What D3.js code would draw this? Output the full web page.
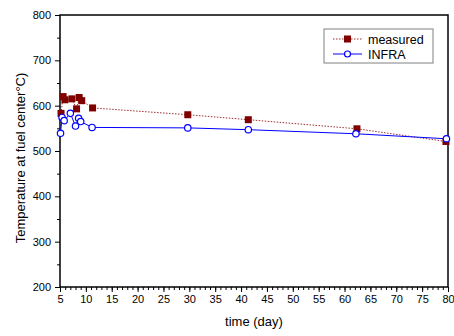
<!DOCTYPE html>
<html>
<head>
<meta charset="utf-8">
<script src="https://cdn.jsdelivr.net/npm/d3@7"></script>
<style>
  body { margin: 0; background: #fff; }
  svg { font-family: "Liberation Sans", Arial, sans-serif; }
</style>
</head>
<body>
<svg id="chart" width="454" height="336"></svg>
<script>
// measured fuel centre temperature
var measuredDay  = [5.2, 5.6, 5.95, 7.3, 8.2, 8.7, 9.2, 11.3, 29.7, 41.4, 62.4, 79.6];
var measuredTemp = [583, 620, 613, 615, 593, 618, 611, 595, 580, 569, 549, 521];

// INFRA code prediction
var infraDay  = [5.1, 5.4, 5.8, 7.0, 8.0, 8.6, 9.0, 11.2, 29.7, 41.4, 62.2, 79.7];
var infraTemp = [539, 574, 567, 583, 555, 572, 565, 552, 551, 547, 538, 527];

var xTicks = d3.range(5, 81, 5);
var yTicks = d3.range(200, 801, 100);
var seriesNames = ["measured", "INFRA"];

var margin = {top: 15, right: 6, bottom: 49, left: 60},
    width = 454 - margin.left - margin.right,
    height = 336 - margin.top - margin.bottom;

var svg = d3.select("#chart");
var g = svg.append("g")
  .attr("transform", "translate(" + margin.left + "," + margin.top + ")");

var x = d3.scaleLinear().domain([5, 80]).range([0, width]);
var y = d3.scaleLinear().domain([200, 800]).range([height, 0]);

// minor ticks
g.append("g")
  .attr("transform", "translate(0," + height + ")")
  .call(d3.axisBottom(x).tickValues(d3.range(5, 81, 1)).tickSize(3).tickFormat(""))
  .call(function(a) { a.select(".domain").remove(); });
g.append("g")
  .call(d3.axisLeft(y).tickValues(d3.range(250, 800, 100)).tickSize(3).tickFormat(""))
  .call(function(a) { a.select(".domain").remove(); });

// major ticks + labels
var xAxis = g.append("g")
  .attr("transform", "translate(0," + height + ")")
  .call(d3.axisBottom(x).tickValues(xTicks).tickSize(5).tickPadding(3));
var yAxis = g.append("g")
  .call(d3.axisLeft(y).tickValues(yTicks).tickSize(5).tickPadding(4));

[xAxis, yAxis].forEach(function(a) {
  a.select(".domain").remove();
  a.selectAll("text").attr("font-size", 11).attr("fill", "#000")
    .attr("font-family", "Liberation Sans, Arial, sans-serif");
});
g.selectAll(".tick line").attr("stroke", "#000");

// frame
g.append("rect")
  .attr("width", width).attr("height", height)
  .attr("fill", "none").attr("stroke", "#000").attr("stroke-width", 1.5);

// lines
var measured = measuredDay.map(function(d, i) { return {d: d, t: measuredTemp[i]}; });
var infra = infraDay.map(function(d, i) { return {d: d, t: infraTemp[i]}; });

var line = d3.line()
  .x(function(p) { return x(p.d); })
  .y(function(p) { return y(p.t); });

g.append("path").datum(measured)
  .attr("d", line).attr("fill", "none")
  .attr("stroke", "#a03030").attr("stroke-width", 1)
  .attr("stroke-dasharray", "1.5,1.5");

g.append("path").datum(infra)
  .attr("d", line).attr("fill", "none")
  .attr("stroke", "#0000ff").attr("stroke-width", 1);

g.selectAll(".sq").data(measured).enter().append("rect")
  .attr("x", function(p) { return x(p.d) - 3.5; })
  .attr("y", function(p) { return y(p.t) - 3.5; })
  .attr("width", 7).attr("height", 7)
  .attr("fill", "#800000");

g.selectAll(".ci").data(infra).enter().append("circle")
  .attr("cx", function(p) { return x(p.d); })
  .attr("cy", function(p) { return y(p.t); })
  .attr("r", 3.2)
  .attr("fill", "#fff").attr("stroke", "#0000ff").attr("stroke-width", 1.2);

// legend
var lg = svg.append("g").attr("transform", "translate(324,29)");
lg.append("rect").attr("width", 109).attr("height", 34)
  .attr("fill", "#fff").attr("stroke", "#808080").attr("stroke-width", 1);

lg.append("line").attr("x1", 9).attr("x2", 38).attr("y1", 10).attr("y2", 10)
  .attr("stroke", "#a03030").attr("stroke-dasharray", "1.5,1.5");
lg.append("rect").attr("x", 20).attr("y", 6.5).attr("width", 7).attr("height", 7)
  .attr("fill", "#800000");
lg.append("line").attr("x1", 9).attr("x2", 38).attr("y1", 25).attr("y2", 25)
  .attr("stroke", "#0000ff");
lg.append("circle").attr("cx", 23.5).attr("cy", 25).attr("r", 3)
  .attr("fill", "#fff").attr("stroke", "#0000ff").attr("stroke-width", 1.2);

lg.selectAll(".lt").data(seriesNames).enter().append("text")
  .attr("x", 44).attr("y", function(d, i) { return 14.5 + i * 15; })
  .attr("font-size", 12.5).text(function(d) { return d; });

// axis titles
svg.append("text")
  .attr("x", margin.left + width / 2).attr("y", 326)
  .attr("text-anchor", "middle").attr("font-size", 13)
  .text("time (day)");

svg.append("text")
  .attr("transform", "translate(25,158) rotate(-90)")
  .attr("text-anchor", "middle").attr("font-size", 13)
  .text("Temperature at fuel center°C)");
</script>
</body>
</html>
